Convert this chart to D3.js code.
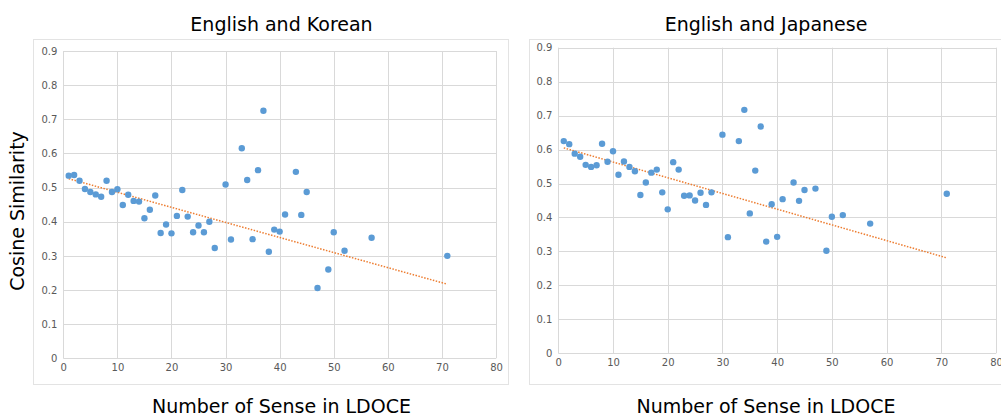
<!DOCTYPE html>
<html>
<head>
<meta charset="utf-8">
<script src="https://cdn.jsdelivr.net/npm/d3@7"></script>
<style>
  html, body { margin: 0; padding: 0; background: #ffffff; }
  svg { display: block; font-family: "DejaVu Sans", sans-serif; }
</style>
</head>
<body>
<svg id="chart" width="1001" height="416"></svg>
<script>
// Number of senses per word in LDOCE
const koreanSenses = [1,2,3,4,5,6,7,8,9,10,11,12,13,14,15,16,17,18,19,20,21,22,23,24,25,26,27,28,30,31,33,34,35,36,37,38,39,40,41,43,44,45,47,49,50,52,57,71];
// Cosine similarity, English vs Korean
const koreanSimilarity = [0.535,0.537,0.520,0.496,0.487,0.480,0.473,0.520,0.487,0.495,0.449,0.479,0.461,0.459,0.410,0.435,0.477,0.367,0.392,0.366,0.417,0.493,0.415,0.369,0.389,0.369,0.400,0.323,0.509,0.348,0.615,0.522,0.349,0.551,0.725,0.312,0.377,0.371,0.421,0.546,0.420,0.487,0.206,0.260,0.369,0.315,0.353,0.300];
// Linear trend (start and end of the dotted line)
const koreanTrendX = [1, 71];
const koreanTrendY = [0.526, 0.217];

const japaneseSenses = [1,2,3,4,5,6,7,8,9,10,11,12,13,14,15,16,17,18,19,20,21,22,23,24,25,26,27,28,30,31,33,34,35,36,37,38,39,40,41,43,44,45,47,49,50,52,57,71];
// Cosine similarity, English vs Japanese
const japaneseSimilarity = [0.625,0.616,0.588,0.579,0.555,0.549,0.554,0.617,0.564,0.595,0.526,0.565,0.549,0.536,0.466,0.503,0.532,0.541,0.474,0.424,0.563,0.541,0.464,0.465,0.450,0.473,0.437,0.474,0.644,0.342,0.625,0.717,0.412,0.538,0.668,0.329,0.439,0.343,0.454,0.503,0.449,0.481,0.485,0.302,0.402,0.407,0.382,0.470];
const japaneseTrendX = [1, 71];
const japaneseTrendY = [0.605, 0.281];

const xTicks = [0,10,20,30,40,50,60,70,80];
const yTicks = [0,0.1,0.2,0.3,0.4,0.5,0.6,0.7,0.8,0.9];

const panels = [
  { title: "English and Korean", xs: koreanSenses, ys: koreanSimilarity,
    tx: koreanTrendX, ty: koreanTrendY,
    frame: [33, 39, 508, 384], plot: [63.3, 51, 496, 358.3], titleX: 281.5 },
  { title: "English and Japanese", xs: japaneseSenses, ys: japaneseSimilarity,
    tx: japaneseTrendX, ty: japaneseTrendY,
    frame: [529, 39, 1012, 384], plot: [558.3, 47.7, 996, 353.3], titleX: 766 }
];

const svg = d3.select("#chart");
const gridColor = "#d9d9d9";
const tickColor = "#595959";

panels.forEach(p => {
  const [fx0, fy0, fx1, fy1] = p.frame;
  const [px0, py0, px1, py1] = p.plot;
  const g = svg.append("g");

  g.append("rect")
    .attr("x", fx0 + 0.5).attr("y", fy0 + 0.5)
    .attr("width", fx1 - fx0).attr("height", fy1 - fy0)
    .attr("fill", "#fff").attr("stroke", "#e3e3e3");

  const x = d3.scaleLinear().domain([0, 80]).range([px0, px1]);
  const y = d3.scaleLinear().domain([0, 0.9]).range([py1, py0]);

  // grid
  g.append("g").selectAll("line").data(xTicks).join("line")
    .attr("x1", d => Math.round(x(d)) + 0.5).attr("x2", d => Math.round(x(d)) + 0.5)
    .attr("y1", py0).attr("y2", py1)
    .attr("stroke", gridColor);
  g.append("g").selectAll("line").data(yTicks).join("line")
    .attr("y1", d => Math.round(y(d)) + 0.5).attr("y2", d => Math.round(y(d)) + 0.5)
    .attr("x1", px0).attr("x2", px1)
    .attr("stroke", gridColor);

  // tick labels
  const xAxis = d3.axisBottom(x).tickValues(xTicks).tickSize(0).tickPadding(0);
  const xa = g.append("g").attr("transform", `translate(0,${py1 + 6})`).call(xAxis);
  xa.select(".domain").remove();
  xa.selectAll("text").attr("font-size", 10).attr("fill", tickColor)
    .attr("font-family", "DejaVu Sans, sans-serif").attr("dy", "0.71em");

  const yAxis = d3.axisLeft(y).tickValues(yTicks).tickSize(0).tickPadding(0)
    .tickFormat(d => d === 0 ? "0" : d3.format(".1f")(d));
  const ya = g.append("g").attr("transform", `translate(${px0 - 6},0)`).call(yAxis);
  ya.select(".domain").remove();
  ya.selectAll("text").attr("font-size", 10).attr("fill", tickColor)
    .attr("font-family", "DejaVu Sans, sans-serif");

  // trend line
  const trend = p.tx.map((v, i) => [v, p.ty[i]]);
  g.append("path")
    .attr("d", d3.line().x(d => x(d[0])).y(d => y(d[1]))(trend))
    .attr("fill", "none").attr("stroke", "#ed7d31")
    .attr("stroke-width", 1.5).attr("stroke-dasharray", "1.5,1.5");

  // points
  g.append("g").selectAll("circle").data(p.xs.map((v, i) => [v, p.ys[i]])).join("circle")
    .attr("cx", d => x(d[0])).attr("cy", d => y(d[1])).attr("r", 3.2)
    .attr("fill", "#5b9bd5");

  // titles
  svg.append("text").attr("x", p.titleX).attr("y", 31)
    .attr("text-anchor", "middle").attr("font-size", 19).attr("fill", "#000")
    .text(p.title);
  svg.append("text").attr("x", p.titleX).attr("y", 413)
    .attr("text-anchor", "middle").attr("font-size", 19).attr("fill", "#000")
    .text("Number of Sense in LDOCE");
});

svg.append("text")
  .attr("transform", "translate(24,211) rotate(-90)")
  .attr("text-anchor", "middle").attr("font-size", 19).attr("fill", "#000")
  .text("Cosine Similarity");
</script>
</body>
</html>
